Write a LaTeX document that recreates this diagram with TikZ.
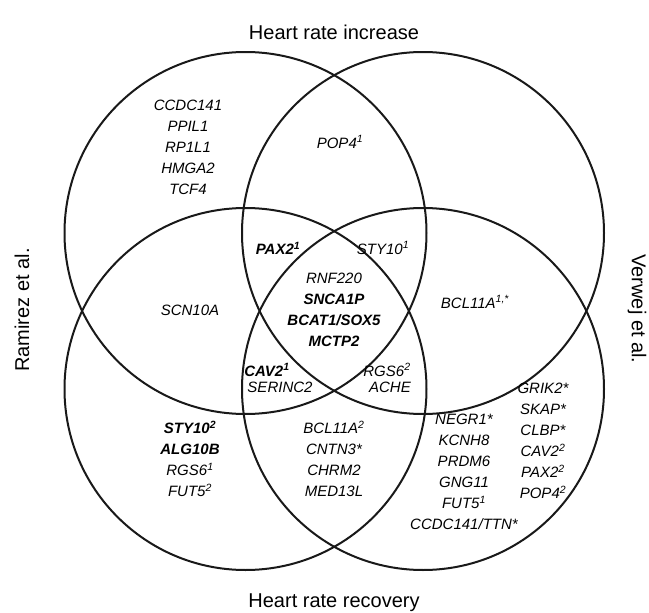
\documentclass[tikz,border=0pt]{standalone}
\usepackage{fontspec}
\setmainfont{Liberation Sans}
\begin{document}
\begin{tikzpicture}[x=1pt,y=-1pt,
  ring/.style={draw=black!90,line width=2pt},
  gene/.style={font=\fontsize{15}{21}\selectfont\itshape,align=center,inner sep=0pt},
  genebold/.style={gene,font=\fontsize{15}{21}\selectfont\itshape\bfseries},
  title/.style={font=\fontsize{20}{24}\selectfont,inner sep=0pt}]
\useasboundingbox (0,0) rectangle (649,613);
% circles
\draw[ring] (245.5,233) circle[radius=181];
\draw[ring] (423,233) circle[radius=181];
\draw[ring] (245.5,389) circle[radius=181];
\draw[ring] (423,389) circle[radius=181];
% titles
\node[title] (tTop) at (334,32) {Heart rate increase};
\node[title] (tBot) at (334,603) {Heart rate recovery};
\node[title,rotate=90] (tLeft) at (22,310) {Ramirez et al.};
\node[title,rotate=-90] (tRight) at (637,309) {Verwej et al.};
% regions
\node[gene] (gTL) at (188,147) {CCDC141\\PPIL1\\RP1L1\\HMGA2\\TCF4};
\node[gene] (gTop) at (340,142) {POP4\textsuperscript{1}};
\node[genebold] (gPax) at (278,248) {PAX2\textsuperscript{1}};
\node[gene] (gSty) at (383,248) {STY10\textsuperscript{1}};
\node[gene] (gLeft) at (190,310) {SCN10A};
\node[gene] (gRight) at (475,302) {BCL11A\textsuperscript{1,*}};
\node[gene] (gMid) at (334,310) {RNF220\\\textbf{SNCA1P}\\\textbf{BCAT1/SOX5}\\\textbf{MCTP2}};
\node[genebold] (gCav) at (267,370) {CAV2\textsuperscript{1}};
\node[gene] (gSer) at (280,387) {SERINC2};
\node[gene] (gRgs) at (387,370) {RGS6\textsuperscript{2}};
\node[gene] (gAche) at (390,387) {ACHE};
\node[gene] (gBL) at (190,459) {\textbf{STY10\textsuperscript{2}}\\\textbf{ALG10B}\\RGS6\textsuperscript{1}\\FUT5\textsuperscript{2}};
\node[gene] (gBM) at (334,459) {BCL11A\textsuperscript{2}\\CNTN3*\\CHRM2\\MED13L};
\node[gene] (gBR) at (464,472) {NEGR1*\\KCNH8\\PRDM6\\GNG11\\FUT5\textsuperscript{1}\\CCDC141/TTN*};
\node[gene] (gR) at (543,441) {GRIK2*\\SKAP*\\CLBP*\\CAV2\textsuperscript{2}\\PAX2\textsuperscript{2}\\POP4\textsuperscript{2}};
\end{tikzpicture}
\end{document}
